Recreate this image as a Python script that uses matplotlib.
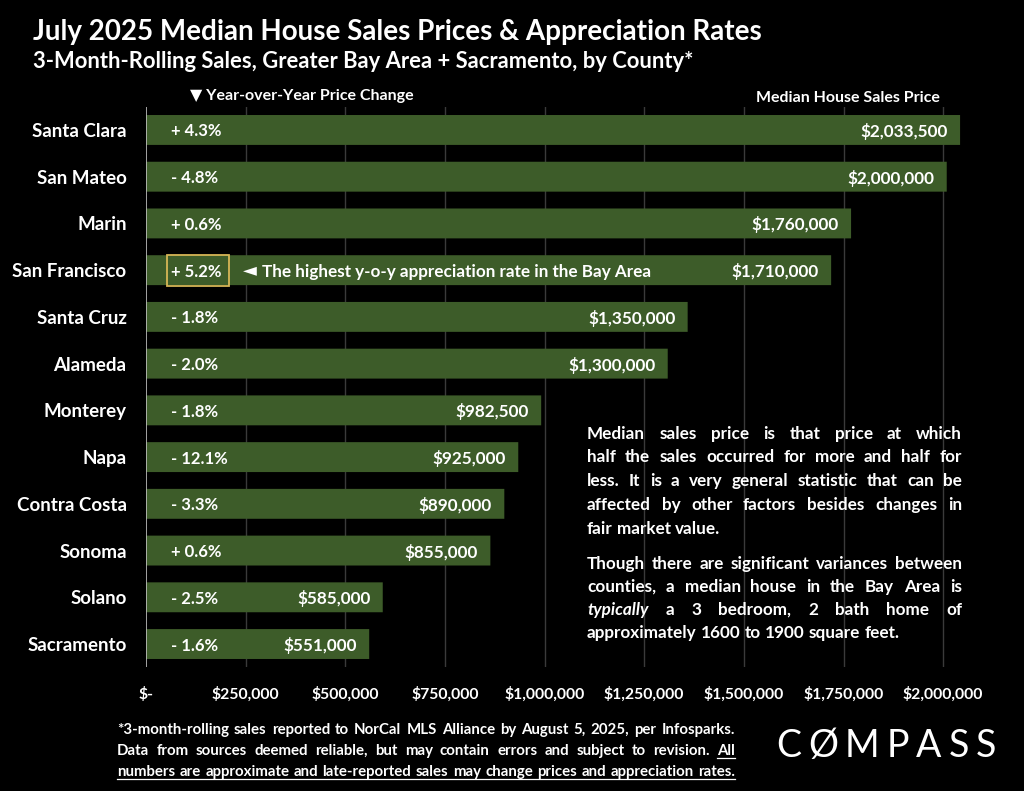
import numpy as np
import matplotlib
matplotlib.use('Agg')
from matplotlib import pyplot as plt
from matplotlib.patches import Rectangle, FancyBboxPatch
from matplotlib.lines import Line2D

#---------------------------  DATA -----------------------------
counties = ['Santa Clara', 'San Mateo', 'Marin', 'San Francisco', 'Santa Cruz', 'Alameda',
            'Monterey', 'Napa', 'Contra Costa', 'Sonoma', 'Solano', 'Sacramento']
prices = [2033500, 2000000, 1760000, 1710000, 1350000, 1300000,
          982500, 925000, 890000, 855000, 585000, 551000]
yoy_labels = ['+ 4.3%', '- 4.8%', '+ 0.6%', '+ 5.2%', '- 1.8%', '- 2.0%',
              '- 1.8%', '- 12.1%', '- 3.3%', '+ 0.6%', '- 2.5%', '- 1.6%']
xticks = [0, 250000, 500000, 750000, 1000000, 1250000, 1500000, 1750000, 2000000]
xtick_labels = ['$-', '$250,000', '$500,000', '$750,000', '$1,000,000', '$1,250,000',
                '$1,500,000', '$1,750,000', '$2,000,000']

FONT = ['Lato', 'DejaVu Sans']
plt.rcParams['font.family'] = FONT
BAR_COLOR = '#3d5c29'
W, H = 1024, 791

fig = plt.figure(figsize=(W / 100, H / 100), dpi=100, facecolor='black')
# axes in pixel coords: left=146, right=983, top=106.6, bottom=667.4
ax = fig.add_axes([146 / W, 1 - 667.4 / H, (983 - 146) / W, (667.4 - 106.6) / H])
ax.set_facecolor('black')

y = np.arange(len(counties))
xmax = 2100000
ax.set_xlim(0, xmax)
ax.set_ylim(len(counties) - 0.5, -0.5)

for xt in xticks[1:]:
    ax.axvline(xt, color='#3a3a3a', linewidth=1.0, zorder=0)
ax.axvline(0, color='#bfbfbf', linewidth=1.2, zorder=3)

bar_h = 0.64
for i, (c, p) in enumerate(zip(counties, prices)):
    ax.add_patch(FancyBboxPatch((0, i - bar_h / 2), p + 9000, bar_h,
                                boxstyle='round,pad=0,rounding_size=0.06',
                                mutation_aspect=1.0 / 40000,
                                facecolor=BAR_COLOR, edgecolor='none', zorder=2))
    ax.text(p - 22000, i, '${:,.0f}'.format(p), ha='right', va='center_baseline',
            color='white', fontsize=12.3, fontweight='bold', zorder=4)
    ax.text(62000, i, yoy_labels[i], ha='left', va='center_baseline',
            color='white', fontsize=12, fontweight='bold', zorder=4)

# highlight San Francisco
sf = counties.index('San Francisco')
ax.add_patch(Rectangle((52000, sf - 0.33), 156000, 0.66, fill=False,
                       edgecolor='#d6b656', linewidth=1.3, zorder=5))
ax.text(243000, sf, '\u25C4', ha='left', va='center', color='white', fontsize=13,
        zorder=4, family=['DejaVu Sans'])
ax.text(292000, sf, 'The highest y-o-y appreciation rate in the Bay Area',
        ha='left', va='center_baseline', color='white', fontsize=12.3, fontweight='bold', zorder=4)

ax.set_yticks(y)
ax.set_yticklabels(counties, color='white', fontsize=13.5, fontweight='bold')
ax.set_xticks(xticks)
ax.set_xticklabels(xtick_labels, color='white', fontsize=11.3, fontweight='bold')
ax.tick_params(axis='both', length=0)
ax.tick_params(axis='y', pad=14)
ax.tick_params(axis='x', pad=14)
for s in ax.spines.values():
    s.set_visible(False)

# titles
fig.text(33 / W, 1 - 32 / H, 'July 2025 Median House Sales Prices & Appreciation Rates',
         color='white', fontsize=20, fontweight='bold', va='center', ha='left')
fig.text(33 / W, 1 - 62 / H, '3-Month-Rolling Sales, Greater Bay Area + Sacramento, by County*',
         color='white', fontsize=15.8, fontweight='bold', va='center', ha='left')
fig.text(190 / W, 1 - 96 / H, '\u25BC Year-over-Year Price Change', color='white',
         fontsize=11.5, fontweight='bold', va='center', ha='left', family=FONT)
fig.text(940 / W, 1 - 98 / H, 'Median House Sales Price', color='white',
         fontsize=11.5, fontweight='bold', va='center', ha='right')

renderer = fig.canvas.get_renderer()


def justify(words, x0, x1, ypix, size, justify_line=True, styles=None, weight='bold'):
    # place words across [x0, x1] pixels; returns list of extents
    texts = []
    for k, w in enumerate(words):
        st = styles[k] if styles else 'normal'
        t = fig.text(0, 0, w, color='white', fontsize=size, fontweight=weight,
                     fontstyle=st, va='baseline', ha='left')
        texts.append(t)
    widths = [t.get_window_extent(renderer).width for t in texts]
    space = fig.text(0, 0, 'a a', fontsize=size, fontweight=weight).get_window_extent(renderer).width - \
        fig.text(0, 0, 'aa', fontsize=size, fontweight=weight).get_window_extent(renderer).width
    fig.texts[-1].remove()
    fig.texts[-1].remove()
    if justify_line and len(words) > 1:
        gap = (x1 - x0 - sum(widths)) / (len(words) - 1)
    else:
        gap = space
    x = x0
    ext = []
    for t, wd in zip(texts, widths):
        t.set_position((x / W, 1 - ypix / H))
        ext.append((x, x + wd))
        x += wd + gap
    return ext


para_size = 12.3
para1 = ['Median sales price is that price at which',
         'half the sales occurred for more and half for',
         'less. It is a very general statistic that can be',
         'affected by other factors besides changes in',
         'fair market value.']
para_y1 = [439, 462, 486, 510, 534]
for k, line in enumerate(para1):
    justify(line.split(), 587, 962, para_y1[k], para_size, justify_line=(k < len(para1) - 1))

para2 = ['Though there are significant variances between',
         'counties, a median house in the Bay Area is',
         'typically a 3 bedroom, 2 bath home of',
         'approximately 1600 to 1900 square feet.']
para_y2 = [569, 592, 615, 638]
for k, line in enumerate(para2):
    words = line.split()
    styles = ['italic' if w == 'typically' else 'normal' for w in words]
    justify(words, 587, 962, para_y2[k], para_size, justify_line=(k < len(para2) - 1), styles=styles)

# footnote
foot_size = 10.8
foot = ['*3-month-rolling sales reported to NorCal MLS Alliance by August 5, 2025, per Infosparks.',
        'Data from sources deemed reliable, but may contain errors and subject to revision. All',
        'numbers are approximate and late-reported sales may change prices and appreciation rates.']
foot_y = [734, 755, 776]
for k, line in enumerate(foot):
    ext = justify(line.split(), 117, 735, foot_y[k], foot_size, justify_line=True)
    if k == 1:
        x0, x1 = ext[-1]
        fig.add_artist(Line2D([x0 / W, x1 / W], [1 - (foot_y[k] + 3) / H] * 2, color='white', linewidth=0.9))
    if k == 2:
        fig.add_artist(Line2D([ext[0][0] / W, ext[-1][1] / W], [1 - (foot_y[k] + 3) / H] * 2,
                              color='white', linewidth=0.9))

# logo
logo = 'C\u00D8MPASS'
lx = 776
for ch in logo:
    t = fig.text(lx / W, 1 - 746 / H, ch, color='white', fontsize=27, fontweight='normal',
                 va='center', ha='left')
    lx += t.get_window_extent(renderer).width + 7

plt.savefig('out.png', dpi=100, facecolor='black')
